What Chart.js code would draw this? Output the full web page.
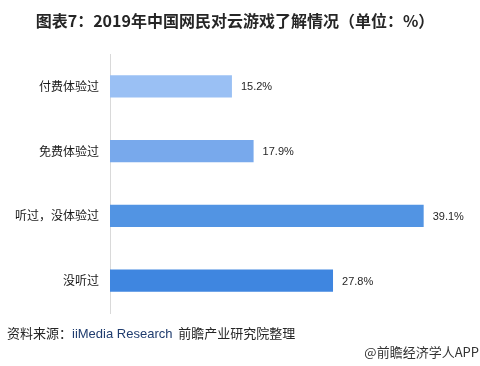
<!DOCTYPE html>
<html>
<head>
<meta charset="utf-8">
<script src="https://cdn.jsdelivr.net/npm/chart.js@4"></script>
<style>
  body { margin: 0; background: #fff; }
  #wrap { position: relative; width: 480px; height: 366px; font-family: "Noto Sans CJK SC", "DejaVu Sans", sans-serif; }
  #chart { position: absolute; left: 0; top: 0; }
  .title { position: absolute; left: 0; width: 470px; top: 8px; text-align: center; font-size: 16px; font-weight: bold; color: #262626; line-height: 24px; }
  .src { position: absolute; left: 7px; top: 324px; font-size: 13px; color: #262626; line-height: 18px; }
  .src span { color: #1f3c6e; font-family: "Liberation Sans", Arial, sans-serif; }
  .app { position: absolute; right: 1px; top: 343px; font-size: 13px; color: #333; line-height: 18px; }
</style>
</head>
<body>
<div id="wrap">
  <canvas id="chart" width="480" height="366"></canvas>
  <div class="title">图表7：2019年中国网民对云游戏了解情况（单位：%）</div>
  <div class="src">资料来源：<span>iiMedia Research</span>&nbsp; 前瞻产业研究院整理</div>
  <div class="app">@前瞻经济学人APP</div>
</div>
<script>
// 数据
const categories = ['付费体验过', '免费体验过', '听过，没体验过', '没听过'];
const values = [15.2, 17.9, 39.1, 27.8];
const barColors = ['#9ac0f4', '#78a9ec', '#5294e3', '#3f86e0'];

// 数值标签
const valueLabels = {
  id: 'valueLabels',
  afterDatasetsDraw(chart) {
    const ctx = chart.ctx;
    const meta = chart.getDatasetMeta(0);
    ctx.save();
    ctx.font = '11px "Liberation Sans", Arial, sans-serif';
    ctx.fillStyle = '#262626';
    ctx.textAlign = 'left';
    ctx.textBaseline = 'middle';
    meta.data.forEach((bar, i) => {
      ctx.fillText(values[i].toFixed(1) + '%', bar.x + 9, bar.y + 1);
    });
    ctx.restore();
  }
};

new Chart(document.getElementById('chart'), {
  type: 'bar',
  data: {
    labels: categories,
    datasets: [{
      data: values,
      backgroundColor: barColors,
      borderWidth: 0,
      categoryPercentage: 1,
      barPercentage: 0.34
    }]
  },
  options: {
    indexAxis: 'y',
    responsive: false,
    animation: false,
    layout: { padding: { left: 0, right: 9, top: 54, bottom: 53 } },
    plugins: {
      legend: { display: false },
      tooltip: { enabled: false }
    },
    scales: {
      x: { display: false, min: 0, max: 45 },
      y: {
        grid: { display: false },
        border: { display: true, color: '#d9d9d9', width: 1 },
        ticks: {
          color: '#1a1a1a',
          padding: 3,
          font: { size: 12, family: '"Noto Sans CJK SC", sans-serif' }
        },
        afterFit(scale) { scale.width = 110; }
      }
    }
  },
  plugins: [valueLabels]
});
</script>
</body>
</html>
